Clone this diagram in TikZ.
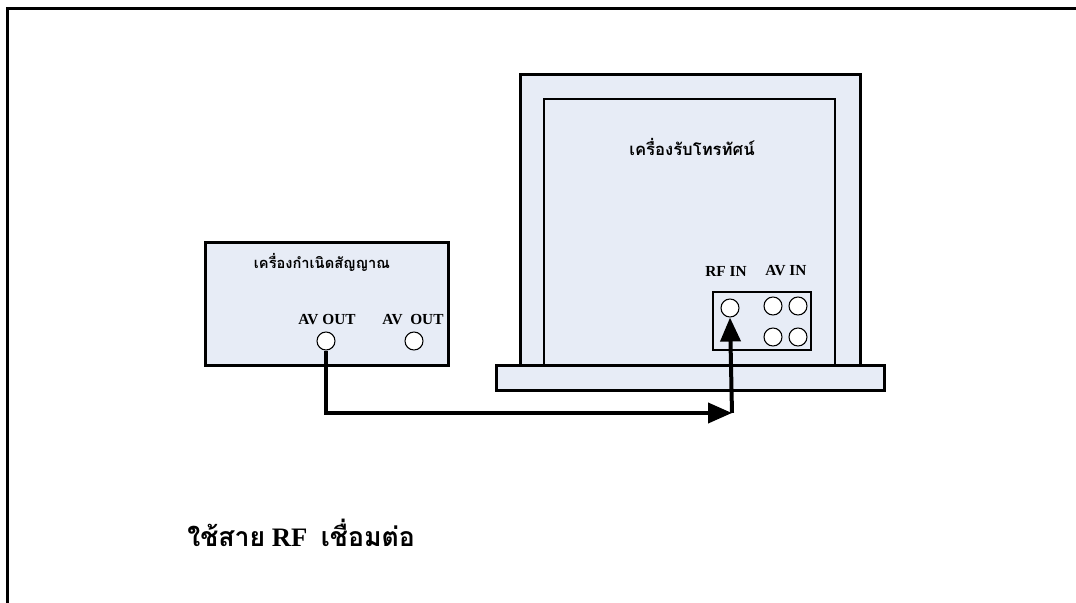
\documentclass[tikz,border=0pt]{standalone}
\usepackage{fontspec}
\setmainfont{Liberation Serif}
\newfontfamily\thaifont[Script=Thai]{Loma}
\usetikzlibrary{fit,arrows.meta}
\definecolor{panelfill}{RGB}{231,236,246}
\tikzset{
  px/.style={x=0.75pt,y=-0.75pt},
  boxthick/.style={draw=black,fill=panelfill,line width=2.25pt,inner sep=0pt},
  boxthin/.style={draw=black,fill=panelfill,line width=1.1pt,inner sep=0pt},
  jack/.style={circle,draw=black,fill=white,line width=0.8pt,minimum size=13.5pt,inner sep=0pt},
  lbl/.style={font=\bfseries\fontsize{11.5}{12}\selectfont,inner sep=0pt},
  thlbl/.style={font=\thaifont\bfseries\fontsize{11}{13}\selectfont,inner sep=0pt},
  cable/.style={line width=3pt,-{Triangle[length=18pt,width=15pt]}},
}
\begin{document}
\begin{tikzpicture}[px]
\useasboundingbox (0,0) rectangle (1076,603);
\begin{scope}
\clip (0,0) rectangle (1076,603);
\draw[line width=2.25pt] (7,620) -- (7,8.5) -- (1090,8.5);
\end{scope}
% signal generator
\node[boxthick, fit={(205,242) (448,365)}] (gen) {};
\node[thlbl] (genlbl) at (322,262) {เครื่องกำเนิดสัญญาณ};
\node[lbl] (out1lbl) at (327,320) {AV OUT};
\node[lbl] (out2lbl) at (413,320) {AV\ \ OUT};
\node[jack] (av1) at (326,341) {};
\node[jack] (av2) at (414,341) {};
% television
\node[boxthick, fit={(520,74) (860,365)}] (tv) {};
\node[boxthin, fit={(544,99) (835,365)}] (screen) {};
\node[boxthick, fit={(496,365) (884,390)}] (stand) {};
\node[thlbl, font=\thaifont\bfseries\fontsize{12.5}{14}\selectfont] (tvlbl) at (692,147) {เครื่องรับโทรทัศน์};
\node[lbl] (rflbl) at (726,271) {RF IN};
\node[lbl] (avinlbl) at (786,271) {AV IN};
\node[boxthin, fit={(713,292) (811,350)}] (panel) {};
\node[jack] (rf) at (730,308) {};
\node[jack] (in1) at (773,306) {};
\node[jack] (in2) at (798,306) {};
\node[jack] (in3) at (773,337) {};
\node[jack] (in4) at (798,337) {};
% cable
\coordinate (bend) at (732,413);
\draw[cable] (av1.south) |- (bend);
\draw[cable] (bend) -- (rf.south);
% caption
\node[anchor=west,inner sep=0pt,font=\bfseries\fontsize{20}{24}\selectfont] (cap) at (187,533)
  {{\thaifont ใช้สาย} RF\ \ {\thaifont เชื่อมต่อ}};
\end{tikzpicture}
\end{document}
